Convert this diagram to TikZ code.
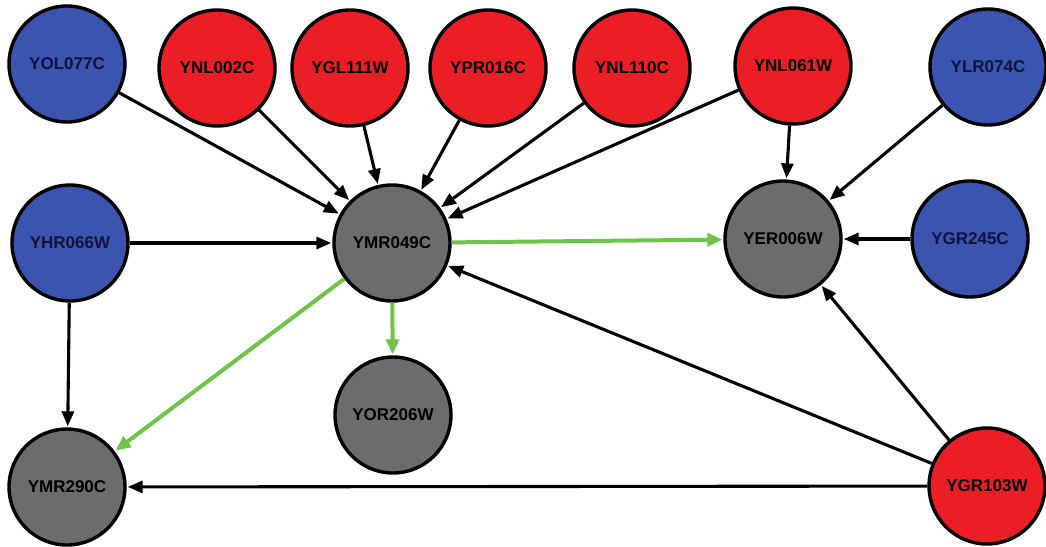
\documentclass[tikz,border=0pt]{standalone}
\usepackage{fontspec}
\setmainfont{Liberation Sans}
\usetikzlibrary{arrows.meta}
\definecolor{nblue}{RGB}{58,84,176}
\definecolor{nred}{RGB}{234,30,36}
\definecolor{ngrey}{RGB}{108,108,108}
\definecolor{ngreen}{RGB}{110,196,72}
\definecolor{navytext}{RGB}{16,20,60}
\begin{document}
\begin{tikzpicture}[x=1pt,y=-1pt,
  gene/.style={circle,draw=black,line width=3.4pt,minimum size=116pt,inner sep=0pt,
    font=\fontsize{17}{17}\selectfont\bfseries},
  bluegene/.style={gene,fill=nblue,text=navytext},
  redgene/.style={gene,fill=nred,text=black},
  greygene/.style={gene,fill=ngrey,text=black},
  edge/.style={line width=3.1pt,draw=black,-{Triangle[length=15pt,width=12pt]},shorten >=1pt},
  gedge/.style={line width=4pt,draw=ngreen,-{Triangle[length=15pt,width=13pt]},shorten >=1pt}]
\useasboundingbox (0,0) rectangle (1046,546);
\node[bluegene] (yol) at (67,64) {YOL077C};
\node[redgene] (ynl002) at (217,68) {YNL002C};
\node[redgene] (ygl) at (350,68) {YGL111W};
\node[redgene] (ypr) at (488,68) {YPR016C};
\node[redgene] (ynl110) at (632,68) {YNL110C};
\node[redgene] (ynl061) at (793,66) {YNL061W};
\node[bluegene] (ylr) at (988,67) {YLR074C};
\node[bluegene] (yhr) at (70,243) {YHR066W};
\node[greygene] (ymr049) at (392,243) {YMR049C};
\node[greygene] (yer) at (783,239) {YER006W};
\node[bluegene] (ygr245) at (970,239) {YGR245C};
\node[greygene] (yor) at (393,415) {YOR206W};
\node[greygene] (ymr290) at (67,487) {YMR290C};
\node[redgene] (ygr103) at (987,486) {YGR103W};
\draw[edge] (yol) -- (ymr049);
\draw[edge] (ynl002) -- (ymr049);
\draw[edge] (ygl) -- (ymr049);
\draw[edge] (ypr) -- (ymr049);
\draw[edge] (ynl110) -- (ymr049);
\draw[edge] (ynl061) -- (ymr049);
\draw[edge] (ynl061) -- (yer);
\draw[edge] (ylr) -- (yer);
\draw[edge] (yhr) -- (ymr049);
\draw[edge] (yhr) -- (ymr290);
\draw[edge] (ygr245) -- (yer);
\draw[edge] (ygr103) -- (ymr049);
\draw[edge] (ygr103) -- (yer);
\draw[edge] (ygr103) -- (ymr290);
\draw[gedge] (ymr049) -- (yer);
\draw[gedge] (ymr049) -- (yor);
\draw[gedge] (ymr049) -- (ymr290);
\end{tikzpicture}
\end{document}
